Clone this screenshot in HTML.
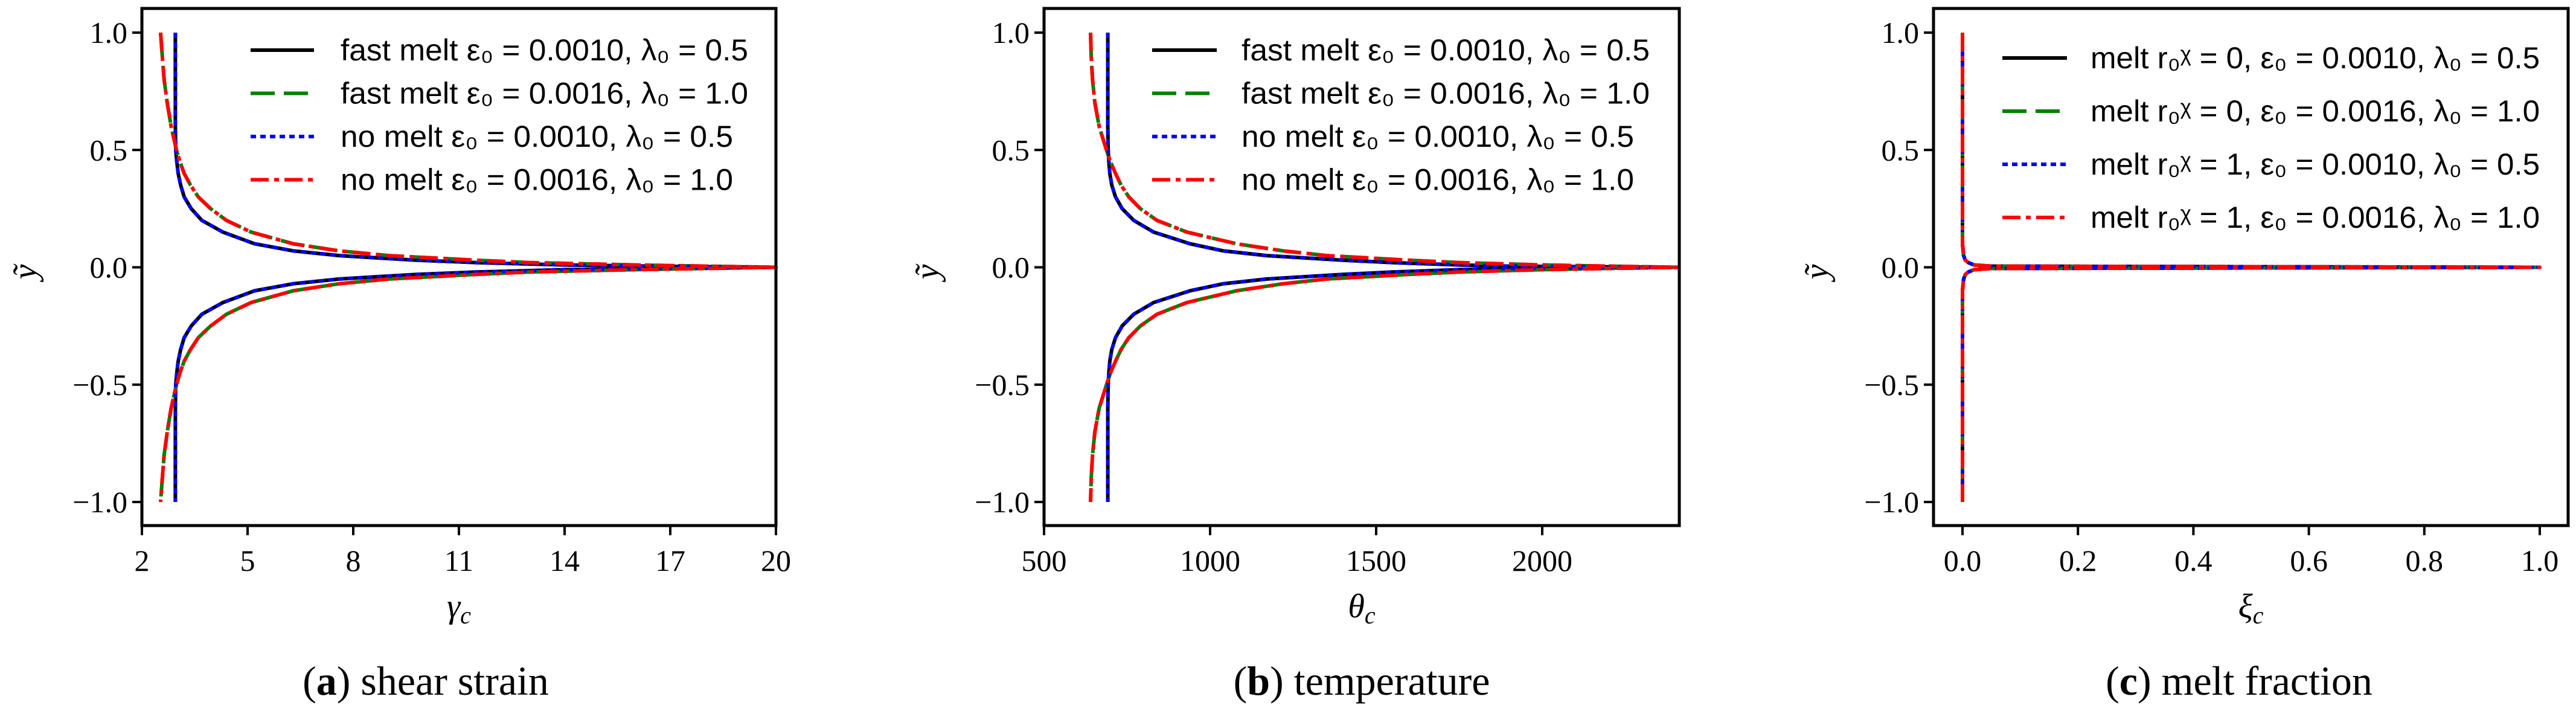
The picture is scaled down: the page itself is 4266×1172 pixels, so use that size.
<!DOCTYPE html>
<html><head><meta charset="utf-8"><style>
html,body{margin:0;padding:0;background:#fff;}
svg{display:block;}
.tick{font-family:"Liberation Serif",serif;font-size:50px;fill:#000;}
.leg{font-family:"Liberation Sans",sans-serif;font-size:50px;fill:#000;}
.cap{font-family:"Liberation Serif",serif;font-size:68px;fill:#000;}
.axl{font-family:"Liberation Serif",serif;font-size:56px;font-style:italic;fill:#000;}
</style></head><body>
<svg id="fig" width="4266" height="1172" viewBox="0 0 4266 1172" xmlns="http://www.w3.org/2000/svg"></svg>
<script>
// ---- data ----
const yVals = [1.0,0.9,0.8,0.7,0.6,0.5,0.45,0.4,0.35,0.3,0.25,0.2,0.15,0.1,0.07,0.05,0.03,0.02,0.01,0.005,0];
const gammaEpsA = [2.95,2.95,2.95,2.95,2.95,2.96,2.99,3.03,3.1,3.2,3.4,3.7,4.3,5.2,6.3,7.6,9.8,11.5,14,16.5,20];
const gammaEpsB = [2.53,2.58,2.63,2.72,2.83,2.98,3.08,3.2,3.38,3.6,3.95,4.4,5.1,6.3,7.6,9,11.5,13,16,18,20];
const thetaEpsA = [692,692,692,692,692,693,695,698,704,715,735,770,830,940,1040,1170,1400,1550,1750,1900,2410];
const thetaEpsB = [640,642,646,653,666,688,700,715,732,755,790,840,930,1080,1220,1350,1600,1750,2000,2200,2410];
const xiVals = [0,0,0,0,0,0,0,0,0,0,0,0,0,0,0.001,0.002,0.005,0.01,0.02,0.05,1.0];
const ticksA = [2,5,8,11,14,17,20];
const ticksB = [500,1000,1500,2000];
const ticksC = [0.0,0.2,0.4,0.6,0.8,1.0];
const ticksY = [-1.0,-0.5,0.0,0.5,1.0];
const legendAB = ["fast melt ε₀ = 0.0010, λ₀ = 0.5","fast melt ε₀ = 0.0016, λ₀ = 1.0","no melt ε₀ = 0.0010, λ₀ = 0.5","no melt ε₀ = 0.0016, λ₀ = 1.0"];
const legendC = ["melt r₀ᵡ = 0, ε₀ = 0.0010, λ₀ = 0.5","melt r₀ᵡ = 0, ε₀ = 0.0016, λ₀ = 1.0","melt r₀ᵡ = 1, ε₀ = 0.0010, λ₀ = 0.5","melt r₀ᵡ = 1, ε₀ = 0.0016, λ₀ = 1.0"];

const NS="http://www.w3.org/2000/svg";
const svg=document.getElementById('fig');
function el(tag,attrs,parent){const e=document.createElementNS(NS,tag);for(const k in attrs)e.setAttribute(k,attrs[k]);(parent||svg).appendChild(e);return e;}
const styles=[
 {stroke:"#000",dash:""},
 {stroke:"#008000",dash:"40 15"},
 {stroke:"#0000ff",dash:"9 7"},
 {stroke:"#ff0000",dash:"30 9 8 9"}];
const yTop=54,yBot=831,axTop=14,axBot=870;
function ys(v){return yBot+(v+1)/2*(yTop-yBot);}

function panel(cfg){
  const g=el('g',{});
  
  
  const xs=v=>cfg.px0+(v-cfg.x0)/(cfg.x1-cfg.x0)*(cfg.px1-cfg.px0);
  cfg.series.forEach((xarr,i)=>{
    const pts=[];
    for(let k=0;k<yVals.length;k++)pts.push(xs(xarr[k]).toFixed(1)+","+ys(yVals[k]).toFixed(1));
    for(let k=yVals.length-1;k>=0;k--)pts.push(xs(xarr[k]).toFixed(1)+","+ys(-yVals[k]).toFixed(1));
    const p=el('polyline',{points:pts.join(' '),fill:'none',stroke:styles[i].stroke,'stroke-width':6,'stroke-dasharray':styles[i].dash,'stroke-linejoin':'round'},g);
    
    
  });
  const fr=el('rect',{x:cfg.L,y:axTop,width:cfg.R-cfg.L,height:axBot-axTop,fill:'none',stroke:'#000','stroke-width':5},g);
  
  
  cfg.ticks.forEach(t=>{
    const x=xs(t);
    el('line',{x1:x,y1:axBot,x2:x,y2:axBot+16,stroke:'#000','stroke-width':4},g);
    const tx=el('text',{x:x,y:945,'text-anchor':'middle',class:'tick'},g);
    tx.textContent=cfg.fmt(t);
    
    
  });
  ticksY.forEach(t=>{
    const y=ys(t);
    el('line',{x1:cfg.L,y1:y,x2:cfg.L-16,y2:y,stroke:'#000','stroke-width':4},g);
    const tx=el('text',{x:cfg.L-24,y:y+17,'text-anchor':'end',class:'tick'},g);
    tx.textContent=(t<0?'−':'')+Math.abs(t).toFixed(1);
    
    
  });
  const yl=el('text',{x:cfg.L-175,y:450,'text-anchor':'middle',class:'axl',transform:`rotate(-90 ${cfg.L-175} 450)`},g);
  yl.textContent='ỹ';
  
  
  const xl=el('text',{x:(cfg.L+cfg.R)/2,y:1022,'text-anchor':'middle',class:'axl'},g);
  xl.innerHTML=cfg.xlabel+'<tspan font-size="40" dy="10">c</tspan>';
  
  
  cfg.legend.forEach((txt,i)=>{
    const y=cfg.legY0+i*cfg.legDy;
    const ln=el('line',{x1:cfg.legX0,y1:y,x2:cfg.legX1,y2:y,stroke:styles[i].stroke,'stroke-width':6,'stroke-dasharray':styles[i].dash},g);
    
    
    const t=el('text',{x:cfg.legTx,y:y+17,class:'leg',textLength:cfg.legW[i],lengthAdjust:'spacingAndGlyphs'},g);
    t.textContent=txt;
    
    
  });
  const cap=el('text',{x:cfg.capX,y:1150,'text-anchor':'middle',class:'cap'},g);
  cap.innerHTML=cfg.cap;
  
  
}
panel({name:'panel-shear-strain',L:235,R:1285,px0:235,px1:1285,x0:2,x1:20,ticks:ticksA,fmt:t=>String(t),
  series:[gammaEpsA,gammaEpsB,gammaEpsA,gammaEpsB],xlabel:'γ',
  legend:legendAB,legX0:415,legX1:520,legTx:564,legY0:83,legDy:71.5,legW:[675,675,650,650],
  capX:705,cap:'(<tspan font-weight="bold">a</tspan>) shear strain'});
panel({name:'panel-temperature',L:1729,R:2781,px0:1729,px1:2004,x0:500,x1:1000,ticks:ticksB,fmt:t=>String(t),
  series:[thetaEpsA,thetaEpsB,thetaEpsA,thetaEpsB],xlabel:'θ',
  legend:legendAB,legX0:1908,legX1:2015,legTx:2056,legY0:83,legDy:71.5,legW:[676,676,650,650],
  capX:2255,cap:'(<tspan font-weight="bold">b</tspan>) temperature'});
panel({name:'panel-melt-fraction',L:3202,R:4253,px0:3250,px1:4206,x0:0,x1:1,ticks:ticksC,fmt:t=>t.toFixed(1),
  series:[xiVals,xiVals,xiVals,xiVals],xlabel:'ξ',
  legend:legendC,legX0:3316,legX1:3423,legTx:3462,legY0:96,legDy:88,legW:[744,744,744,744],
  capX:3708,cap:'(<tspan font-weight="bold">c</tspan>) melt fraction'});
</script>
</body></html>
